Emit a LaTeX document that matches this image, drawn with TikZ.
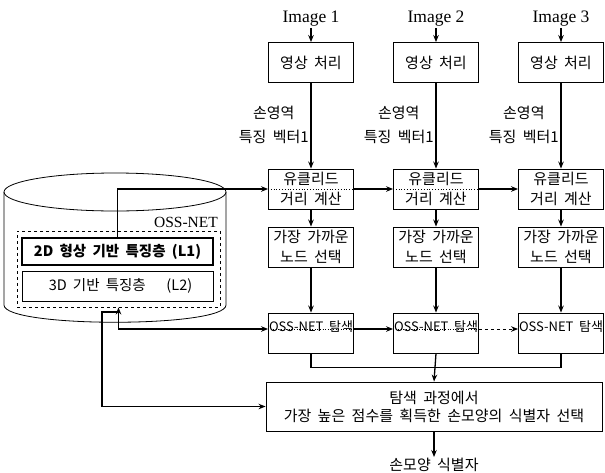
\documentclass[tikz,border=0pt]{standalone}
\usepackage{fontspec}
\setmainfont{Liberation Serif}
\newfontfamily\kr{Noto Sans CJK KR}[WordSpace=1.9]
\usetikzlibrary{arrows.meta}
\begin{document}
\begin{tikzpicture}[x=1pt,y=-1pt,
  box/.style={draw, line width=0.9pt, minimum width=85pt, minimum height=40pt, inner sep=0pt,
    font=\kr\fontsize{15}{19.5}\selectfont, align=center},
  txt/.style={font=\kr\fontsize{15}{19.5}\selectfont, align=center, inner sep=1pt},
  imglab/.style={font=\fontsize{17.5}{20}\selectfont, inner sep=1pt},
  conn/.style={line width=1.3pt, -{Stealth[length=7pt,width=5.5pt]}},
  wire/.style={line width=1.3pt},
  both/.style={line width=1.3pt, {Stealth[length=7pt,width=5.5pt]}-{Stealth[length=7pt,width=5.5pt]}}
]
\useasboundingbox (0,0) rectangle (605,472);

% database cylinder
\draw[line width=0.8pt] (115,192) ellipse[x radius=111, y radius=19];
\draw[line width=0.8pt] (4,192) -- (4,305) .. controls (4,328) and (226,328) .. (226,305) -- (226,192);
\node[anchor=east, font=\fontsize{15.5}{18}\selectfont, inner sep=0pt] (ossnet) at (218,222) {OSS-NET};
\node[draw, dashed, line width=0.9pt, minimum width=203pt, minimum height=76pt, inner sep=0pt] (dbin) at (118.5,269) {};
\node[draw, line width=2.2pt, minimum width=191pt, minimum height=27pt, inner sep=0pt,
  font=\kr\bfseries\fontsize{14.5}{16}\selectfont] (L1) at (117.5,251.5) {2D 형상 기반 특징층 (L1)};
\node[draw, line width=0.8pt, minimum width=191pt, minimum height=30pt, inner sep=0pt,
  font=\kr\fontsize{14.5}{16}\selectfont] (L2) at (117.5,286) {\hspace*{6pt}3D 기반 특징층 \quad(L2)};

% columns
\foreach \i/\x in {1/311, 2/436, 3/561} {
  \node[imglab] (img\i) at (\x,19) {Image \i};
  \node[box] (p\i) at (\x,62.5) {영상 처리};
  \node[txt, anchor=east, font=\kr\fontsize{15}{24}\selectfont] (v\i) at (\x-1,125) {손영역\\특징 벡터1};
  \node[box] (e\i) at (\x,189) {유클리드\\거리 계산};
  \node[box] (n\i) at (\x,247) {가장 가까운\\노드 선택};
  \node[box] (o\i) at (\x,333) {};
  \node[txt, font=\kr\fontsize{13}{16}\selectfont] (ot\i) at ([yshift=6pt]o\i.center) {OSS-NET 탐색};
  \draw[conn] (img\i) -- (p\i);
  \draw[conn] (p\i) -- (e\i);
  \draw[conn] (e\i) -- (n\i);
  \draw[conn] (n\i) -- (o\i);
}

% euclid row
\draw[conn] (L1.north) |- (e1.west);
\draw[line width=0.8pt, dotted] (e1.west) -- (e1.east);
\draw[line width=0.8pt, dotted] (e2.west) -- (e2.east);
\draw[conn] (e1) -- (e2);
\draw[conn] (e2) -- (e3);

% OSS-NET search row
\draw[both] (dbin.south) |- ([yshift=4pt]o1.west);
\draw[line width=0.6pt, dotted] ([yshift=4pt]o1.west) -- ([yshift=4pt]o1.east);
\draw[line width=0.6pt, dotted] ([yshift=4pt]o2.west) -- ([yshift=4pt]o2.east);
\draw[conn] ([yshift=4pt]o1.east) -- ([yshift=4pt]o2.west);
\draw[line width=1pt, dashed, -{Stealth[length=7pt,width=5.5pt]}] ([yshift=4pt]o2.east) -- ([yshift=4pt]o3.west);

% final selection
\node[box, minimum width=336pt, minimum height=49pt, font=\kr\fontsize{15}{18}\selectfont] (big) at (434,406.5) {탐색 과정에서\\가장 높은 점수를 획득한 손모양의 식별자 선택};
\draw[wire] (o1.south) -- ++(0,14) -| (o3.south);
\draw[conn] (o2.south) -- (big.north);
\coordinate (j) at (118.5,312);
\coordinate (jl) at (102,312);
\draw[conn] (j) -- (jl) |- (big.west);
\node[txt] (out) at (434,465) {손모양 식별자};
\draw[conn] (big.south) -- (out.north);
\end{tikzpicture}
\end{document}
